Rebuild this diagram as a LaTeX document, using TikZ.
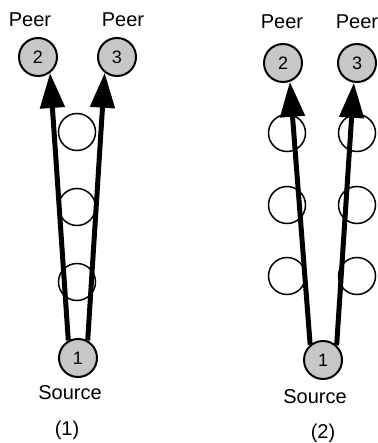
\documentclass[tikz,border=0pt]{standalone}
\usepackage{fontspec}
\setmainfont{Liberation Sans}
\usetikzlibrary{arrows.meta}
\begin{document}
\begin{tikzpicture}[x=1pt,y=-1pt,
  peer/.style={circle, draw, line width=2pt, fill=black!22, minimum size=38pt, inner sep=0pt, font=\fontsize{18}{18}\selectfont},
  relay/.style={circle, draw, line width=1.5pt, fill=white, minimum size=37pt, inner sep=0pt},
  lbl/.style={font=\fontsize{20}{20}\selectfont, inner sep=0pt},
  flow/.style={line width=5pt, -{Triangle[length=35pt,width=24pt]}}]
\useasboundingbox (0,0) rectangle (377,443);
% ---------- diagram (1) ----------
\node[relay] (a1) at (77,132) {};
\node[relay] (a2) at (77,207) {};
\node[relay] (a3) at (77,282) {};
\node[peer] (p12) at (38,57) {2};
\node[peer] (p13) at (117,57) {3};
\node[peer] (s1) at (78,358) {1};
\node[lbl] (l12) at (30,20) {Peer};
\node[lbl] (l13) at (123,20) {Peer};
\node[lbl] (ls1) at (70,393) {Source};
\node[lbl] (c1) at (67,430) {(1)};
\draw[flow] (s1.119) -- (p12.-53);
\draw[flow] (s1.61) -- (p13.232);
% ---------- diagram (2) ----------
\node[relay] (b1) at (287,133) {};
\node[relay] (b2) at (287,205) {};
\node[relay] (b3) at (287,276) {};
\node[relay] (d1) at (357,133) {};
\node[relay] (d2) at (357,205) {};
\node[relay] (d3) at (357,276) {};
\node[peer] (p22) at (283,63) {2};
\node[peer] (p23) at (357,63) {3};
\node[peer] (s2) at (323,360) {1};
\node[lbl] (l22) at (282,22) {Peer};
\node[lbl] (l23) at (357,22) {Peer};
\node[lbl] (ls2) at (315,397) {Source};
\node[lbl] (c2) at (323,433) {(2)};
\draw[flow] (s2.130) -- (p22.-70);
\draw[flow] (s2.47) -- (p23.261);
\end{tikzpicture}
\end{document}
